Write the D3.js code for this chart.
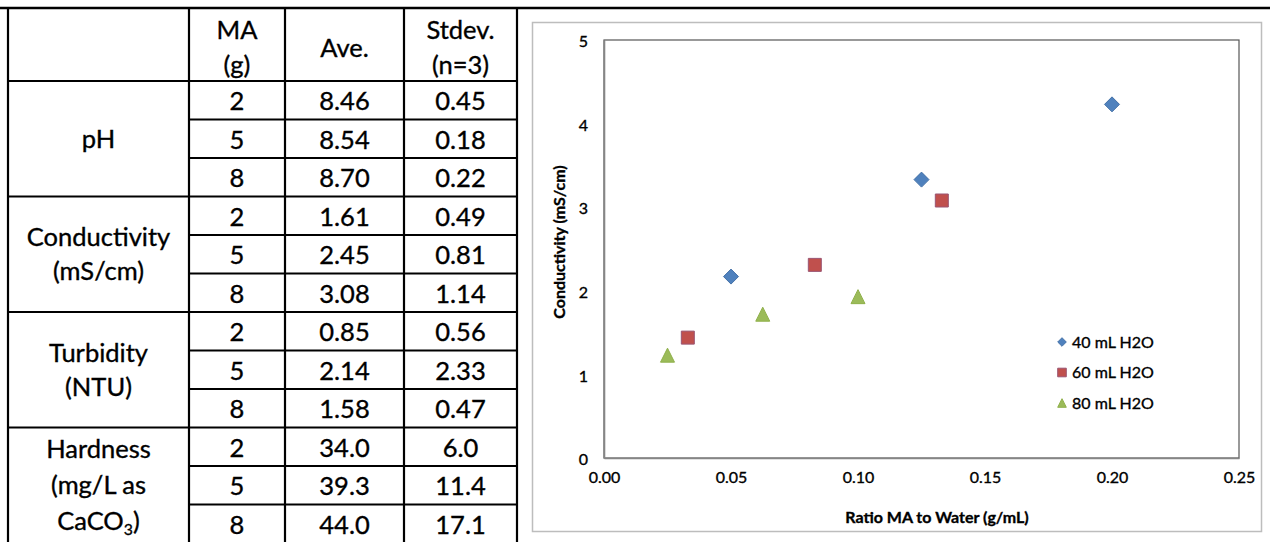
<!DOCTYPE html>
<html>
<head>
<meta charset="utf-8">
<script src="https://cdn.jsdelivr.net/npm/d3@7/dist/d3.min.js"></script>
<style>
  body { margin: 0; background: #fff; }
  text { font-family: Lato, "Noto Sans", sans-serif; stroke: #000; stroke-width: 0.35px; }
</style>
</head>
<body>
<div id="chart-area"></div>
<script>
// table data
var paramLabels = [["pH"], ["Conductivity", "(mS/cm)"], ["Turbidity", "(NTU)"], ["Hardness", "(mg/L as", "CaCO|3|)"]];
var maDoses = [2, 5, 8];
var aveValues = ["8.46", "8.54", "8.70", "1.61", "2.45", "3.08", "0.85", "2.14", "1.58", "34.0", "39.3", "44.0"];
var stdevValues = ["0.45", "0.18", "0.22", "0.49", "0.81", "1.14", "0.56", "2.33", "0.47", "6.0", "11.4", "17.1"];
var headerLabels = [[], ["MA", "(g)"], ["Ave."], ["Stdev.", "(n=3)"]];

// chart data
var seriesNames = ["40 mL H2O", "60 mL H2O", "80 mL H2O"];
var ratio40 = [0.050, 0.125, 0.200];
var cond40 = [2.17, 3.33, 4.23];
var ratio60 = [0.033, 0.083, 0.133];
var cond60 = [1.44, 2.31, 3.08];
var ratio80 = [0.025, 0.0625, 0.100];
var cond80 = [1.23, 1.72, 1.93];
var xTicks = [0, 0.05, 0.10, 0.15, 0.20, 0.25];
var yTicks = [0, 1, 2, 3, 4, 5];

var width = 1270, height = 542;
var tableFont = 25.5, chartFont = 16;

var svg = d3.select("#chart-area")
    .append("svg")
        .attr("width", width)
        .attr("height", height);

// ---------- table ----------
var colEdges = [8, 189, 285, 404, 517];
var tableTop = 8, headerBottom = 81;
var rowY = d3.scaleLinear().domain([0, 12]).range([headerBottom, headerBottom + 12 * 38.5]);
var tableG = svg.append("g");

function colMid(i) { return (colEdges[i] + colEdges[i + 1]) / 2; }

function multiLine(g, lines, cx, cy, lh, size) {
    var n = lines.length;
    lines.forEach(function(line, i) {
        var t = g.append("text")
            .attr("x", cx)
            .attr("y", cy + (i - (n - 1) / 2) * lh)
            .attr("dy", "0.36em")
            .attr("text-anchor", "middle")
            .attr("font-size", size + "px")
            .attr("fill", "#000");
        var parts = line.split("|");
        if (parts.length == 1) { t.text(line); return; }
        t.append("tspan").text(parts[0]);
        t.append("tspan").attr("font-size", (size * 0.62) + "px").attr("dy", "0.3em").text(parts[1]);
        t.append("tspan").attr("dy", "-0.2em").text(parts[2]);
    });
}

// header
headerLabels.forEach(function(lines, i) {
    multiLine(tableG, lines, colMid(i), (tableTop + headerBottom) / 2 + 3, 35, tableFont);
});

// body rows
d3.range(12).forEach(function(r) {
    var cy = (rowY(r) + rowY(r + 1)) / 2 + 1;
    multiLine(tableG, [String(maDoses[r % 3])], colMid(1), cy, 0, tableFont);
    multiLine(tableG, [aveValues[r]], colMid(2), cy, 0, tableFont);
    multiLine(tableG, [stdevValues[r]], colMid(3), cy, 0, tableFont);
});

// parameter labels
paramLabels.forEach(function(lines, p) {
    var cy = (rowY(p * 3) + rowY(p * 3 + 3)) / 2;
    multiLine(tableG, lines, colMid(0), cy, p == 3 ? 36 : 34, tableFont);
});

// grid lines
var lineG = tableG.append("g").attr("stroke", "#000").attr("stroke-width", 2.2);
lineG.append("line").attr("x1", 0).attr("x2", width).attr("y1", tableTop).attr("y2", tableTop).attr("stroke-width", 2.6);
colEdges.forEach(function(x) {
    lineG.append("line").attr("x1", x).attr("x2", x).attr("y1", tableTop).attr("y2", height);
});
d3.range(12).forEach(function(r) {
    var x1 = (r % 3 == 0) ? colEdges[0] : colEdges[1];
    lineG.append("line").attr("x1", x1).attr("x2", colEdges[4]).attr("y1", rowY(r)).attr("y2", rowY(r));
});

// ---------- chart ----------
svg.append("rect")
    .attr("x", 532.5).attr("y", 22.5)
    .attr("width", 729).attr("height", 509)
    .attr("fill", "none")
    .attr("stroke", "#bdbdbd")
    .attr("stroke-width", 1.5);

var margin = { left: 604, top: 40, right: 1239, bottom: 458 };

var x = d3.scaleLinear().domain([0, 0.25]).range([margin.left, margin.right]);
var y = d3.scaleLinear().domain([0, 5]).range([margin.bottom, margin.top]);

var g = svg.append("g");

g.append("rect")
    .attr("x", margin.left).attr("y", margin.top)
    .attr("width", margin.right - margin.left).attr("height", margin.bottom - margin.top)
    .attr("fill", "none")
    .attr("stroke", "#555")
    .attr("stroke-width", 1.2);

var xAxisCall = d3.axisBottom(x).tickValues(xTicks).tickSize(0).tickPadding(14).tickFormat(d3.format(".2f"));
var xAxisGroup = g.append("g")
    .attr("transform", "translate(0," + margin.bottom + ")")
    .call(xAxisCall);

var yAxisCall = d3.axisLeft(y).tickValues(yTicks).tickSize(0).tickPadding(16).tickFormat(d3.format("d"));
var yAxisGroup = g.append("g")
    .attr("transform", "translate(" + margin.left + ",0)")
    .call(yAxisCall);

[xAxisGroup, yAxisGroup].forEach(function(ax) {
    ax.attr("font-size", chartFont + "px").attr("font-family", "Lato, sans-serif");
    ax.select(".domain").attr("stroke", "#868686").attr("stroke-width", 1.6);
    ax.selectAll("text").attr("fill", "#000");
});
yAxisGroup.selectAll("text").attr("dy", "0.42em");

// axis titles
g.append("text")
    .attr("x", 937)
    .attr("y", 523)
    .attr("text-anchor", "middle")
    .attr("font-size", chartFont + "px")
    .attr("font-weight", "bold")
    .attr("stroke-width", 0.15)
    .text("Ratio MA to Water (g/mL)");

g.append("text")
    .attr("transform", "rotate(-90)")
    .attr("x", -242)
    .attr("y", 565)
    .attr("text-anchor", "middle")
    .attr("font-size", chartFont + "px")
    .attr("font-weight", "bold")
    .attr("stroke-width", 0.15)
    .text("Conductivity (mS/cm)");

// markers
function diamond(s) { return "M0," + (-s) + "L" + s + ",0L0," + s + "L" + (-s) + ",0Z"; }
function square(s) { return "M" + (-s) + "," + (-s) + "h" + (2 * s) + "v" + (2 * s) + "h" + (-2 * s) + "Z"; }
function triangle(s) { return "M0," + (-s) + "L" + s + "," + s + "L" + (-s) + "," + s + "Z"; }

var series = [
    { name: seriesNames[0], xs: ratio40, ys: cond40, shape: diamond, size: 7.5, fill: "#4F81BD", stroke: "#4572a8" },
    { name: seriesNames[1], xs: ratio60, ys: cond60, shape: square, size: 6.5, fill: "#C0504D", stroke: "#9a5572" },
    { name: seriesNames[2], xs: ratio80, ys: cond80, shape: triangle, size: 7, fill: "#9BBB59", stroke: "#8fb04a" }
];

series.forEach(function(s) {
    var pts = s.xs.map(function(v, i) { return { x: v, y: s.ys[i] }; });
    g.selectAll(null)
        .data(pts)
        .enter()
        .append("path")
            .attr("transform", function(d) { return "translate(" + x(d.x) + "," + y(d.y) + ")"; })
            .attr("d", s.shape(s.size))
            .attr("fill", s.fill)
            .attr("stroke", s.stroke)
            .attr("stroke-width", 1)
            .attr("stroke-linejoin", "round");
});

// legend
var legend = g.append("g").attr("transform", "translate(1062, 342)");
series.forEach(function(s, i) {
    var row = legend.append("g").attr("transform", "translate(0," + (i * 30.5) + ")");
    row.append("path")
        .attr("d", s.shape(4.3))
        .attr("fill", s.fill)
        .attr("stroke", s.stroke)
        .attr("stroke-width", 1);
    row.append("text")
        .attr("x", 10)
        .attr("dy", "0.36em")
        .attr("font-size", chartFont + "px")
        .attr("fill", "#000")
        .text(s.name);
});
</script>
</body>
</html>
